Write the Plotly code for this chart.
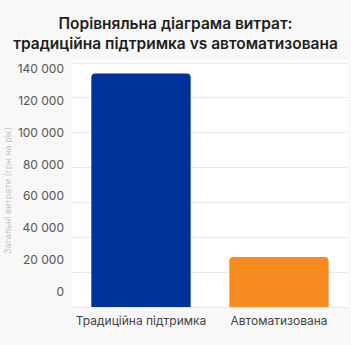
import plotly.graph_objects as go

categories = ["Традиційна підтримка", "Автоматизована"]
costs = [134000, 28700]
bar_colors = ["#00339A", "#F68B1F"]
tick_values = [0, 20000, 40000, 60000, 80000, 100000, 120000, 140000]
tick_labels = ["0", "20 000", "40 000", "60 000", "80 000", "100 000", "120 000", "140 000"]
title_text = "Порівняльна діаграма витрат:<br>традиційна підтримка vs автоматизована"
y_title = "Загальні витрати (грн на рік)"

fig = go.Figure()
fig.add_trace(go.Bar(x=categories, y=costs, marker=dict(color=bar_colors, line=dict(width=0)),
                     hoverinfo="skip", showlegend=False))
# invisible helper trace for the tick-label axis
fig.add_trace(go.Scatter(x=[0, 1], y=[0, 140000], xaxis="x2", yaxis="y2", mode="markers",
                         marker=dict(opacity=0), hoverinfo="skip", showlegend=False))

fig.add_shape(type="rect", xref="x domain", yref="y domain", x0=0, x1=1, y0=0, y1=1,
              fillcolor="#FFFFFF", line=dict(width=0), layer="below")

fig.add_annotation(text=y_title, textangle=-90, xref="paper", yref="paper",
                   x=-0.232, y=0.474, xanchor="center", yanchor="middle", showarrow=False,
                   font=dict(size=9, color="#C4C4C4"))

fig.update_layout(
    width=351, height=345,
    margin=dict(l=72, r=3, t=60, b=38),
    paper_bgcolor="#F8F8F8",
    plot_bgcolor="rgba(0,0,0,0)",
    font=dict(family="Inter, Roboto, sans-serif", color="#444"),
    title=dict(text=title_text, x=0.5, xanchor="center", y=0.915, yanchor="top",
               font=dict(size=15.5, color="#1E1E1E", family="Inter, Roboto, sans-serif", weight=600)),
    bargap=0.28,
    barcornerradius=4,
    xaxis=dict(showgrid=False, showline=True, linecolor="#E6E6E6", linewidth=1,
               tickfont=dict(size=12, color="#444"), ticks="", ticklabelstandoff=3),
    yaxis=dict(range=[0, 141800], tickvals=tick_values, showticklabels=False,
               showgrid=True, gridcolor="#EAEAEA", gridwidth=1, zeroline=False, ticks=""),
    xaxis2=dict(domain=[0, 1], visible=False, range=[0, 1], anchor="y2"),
    yaxis2=dict(domain=[0.062, 0.9636], anchor="x2", range=[0, 140000],
                tickvals=tick_values, ticktext=tick_labels, showgrid=False, zeroline=False,
                showline=False, ticks="", ticklabelstandoff=7,
                tickfont=dict(size=12, color="#555")),
)

fig.write_html("out.html")
